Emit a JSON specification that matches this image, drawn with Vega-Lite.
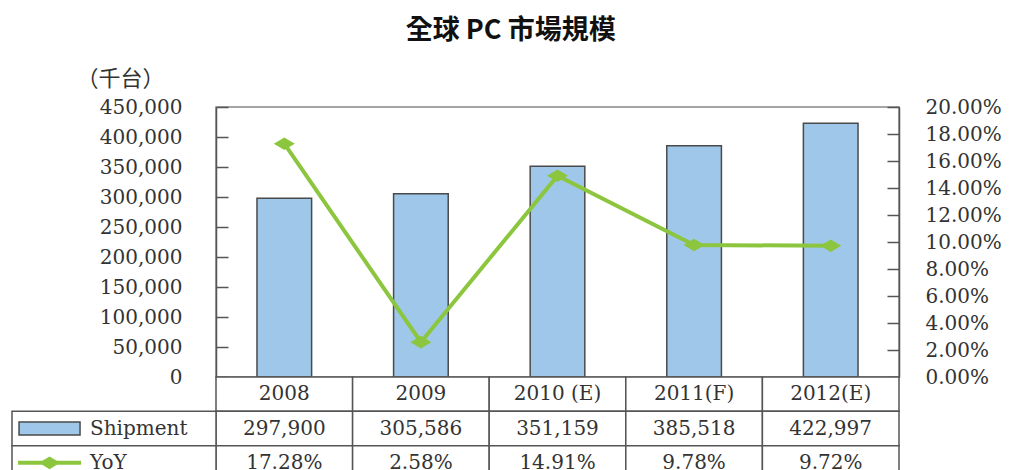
{
  "$schema": "https://vega.github.io/schema/vega-lite/v6.json",
  "width": 683,
  "height": 270,
  "padding": {"left": 10, "top": 17, "right": 0, "bottom": 0},
  "background": "white",
  "title": {
    "text": "全球 PC 市場規模",
    "font": "Noto Sans CJK TC",
    "fontSize": 27,
    "fontWeight": "bold",
    "color": "#111111",
    "anchor": "middle",
    "frame": "bounds",
    "dx": 5,
    "offset": 22
  },
  "config": {
    "view": {"stroke": "#888888", "strokeWidth": 1.5},
    "axis": {"grid": false},
    "text": {"font": "DejaVu Serif", "fontSize": 20, "color": "#333333"}
  },
  "data": {
    "values": [
      {"year": "2008", "shipment": 297900, "yoy": 0.1728},
      {"year": "2009", "shipment": 305586, "yoy": 0.0258},
      {"year": "2010 (E)", "shipment": 351159, "yoy": 0.1491},
      {"year": "2011(F)", "shipment": 385518, "yoy": 0.0978},
      {"year": "2012(E)", "shipment": 422997, "yoy": 0.0972}
    ]
  },
  "resolve": {"scale": {"x": "independent", "y": "independent"}, "axis": {"x": "independent", "y": "independent"}},
  "layer": [
    {
      "mark": {"type": "bar", "fill": "#9FC7EA", "stroke": "#4a4a4a", "strokeWidth": 1.5, "width": {"band": 0.4}},
      "encoding": {
        "x": {"field": "year", "type": "nominal", "scale": {"paddingInner": 0, "paddingOuter": 0}, "axis": null},
        "y": {
          "field": "shipment", "type": "quantitative",
          "scale": {"domain": [0, 450000], "nice": false},
          "axis": {
            "orient": "left", "tickCount": 9, "format": ",d",
            "domainColor": "#555555", "domainWidth": 1.5,
            "tickColor": "#555555", "tickWidth": 1.5, "tickSize": -12,
            "labelFont": "DejaVu Serif", "labelFontSize": 20, "labelColor": "#333333", "labelPadding": 46,
            "title": "（千台）", "titleFont": "Noto Sans CJK TC", "titleFontSize": 22, "titleFontWeight": "normal",
            "titleColor": "#333333", "titleAngle": 0, "titleAlign": "left", "titleBaseline": "middle",
            "titleX": -140, "titleY": -29
          }
        }
      }
    },
    {
      "encoding": {
        "x": {"field": "year", "type": "nominal", "scale": {"paddingInner": 0, "paddingOuter": 0}, "axis": null},
        "y": {
          "field": "yoy", "type": "quantitative",
          "scale": {"domain": [0, 0.2], "nice": false},
          "axis": {
            "orient": "right", "tickCount": 10, "format": ".2%",
            "domainColor": "#555555", "domainWidth": 1.5,
            "tickColor": "#555555", "tickWidth": 1.5, "tickSize": -12,
            "labelFont": "DejaVu Serif", "labelFontSize": 20, "labelColor": "#333333", "labelPadding": 38,
            "title": null
          }
        }
      },
      "layer": [
        {"mark": {"type": "line", "color": "#8CC63E", "strokeWidth": 4}},
        {"mark": {"type": "point", "filled": true, "fill": "#8CC63E", "opacity": 1, "shape": "M-1,0L0,-0.6L1,0L0,0.6Z", "size": 441}}
      ]
    },
    {
      "encoding": {
        "x": {"field": "year", "type": "nominal", "scale": {"paddingInner": 0, "paddingOuter": 0}, "axis": null}
      },
      "layer": [
        {"mark": {"type": "rect", "fill": "white", "stroke": "#555555", "strokeWidth": 1.5},
         "encoding": {"y": {"datum": "header", "type": "nominal", "scale": {"domain": ["header", "Shipment", "YoY"], "range": [270, 373], "paddingInner": 0, "paddingOuter": 0}, "axis": null}}},
        {"mark": {"type": "rect", "fill": "white", "stroke": "#555555", "strokeWidth": 1.5},
         "encoding": {"y": {"datum": "Shipment", "type": "nominal"}}},
        {"mark": {"type": "rect", "fill": "white", "stroke": "#555555", "strokeWidth": 1.5},
         "encoding": {"y": {"datum": "YoY", "type": "nominal"}}},
        {"mark": {"type": "text", "baseline": "middle", "align": "center"},
         "encoding": {"y": {"datum": "header", "type": "nominal"}, "text": {"field": "year"}}},
        {"mark": {"type": "text", "baseline": "middle", "align": "center"},
         "encoding": {"y": {"datum": "Shipment", "type": "nominal"}, "text": {"field": "shipment", "type": "quantitative", "format": ","}}},
        {"mark": {"type": "text", "baseline": "middle", "align": "center"},
         "encoding": {"y": {"datum": "YoY", "type": "nominal"}, "text": {"field": "yoy", "type": "quantitative", "format": ".2%"}}}
      ]
    },
    {
      "data": {"values": [{"row": "Shipment", "col": "legend"}, {"row": "YoY", "col": "legend"}]},
      "encoding": {
        "y": {"field": "row", "type": "nominal", "scale": {"domain": ["header", "Shipment", "YoY"], "range": [270, 373], "paddingInner": 0, "paddingOuter": 0}, "axis": null}
      },
      "layer": [
        {"mark": {"type": "rect", "fill": "white", "stroke": "#555555", "strokeWidth": 1.5},
         "encoding": {"x": {"field": "col", "type": "nominal", "scale": {"domain": ["legend"], "range": [-204, 0], "paddingInner": 0, "paddingOuter": 0}, "axis": null}}},
        {"transform": [{"filter": "datum.row === 'Shipment'"}],
         "mark": {"type": "point", "filled": true, "fill": "#9FC7EA", "stroke": "#4a4a4a", "strokeWidth": 1.5, "opacity": 1, "shape": "M-1,-0.213H1V0.213H-1Z", "size": 3721},
         "encoding": {"x": {"field": "col", "type": "nominal", "bandPosition": 0.184}}},
        {"transform": [{"filter": "datum.row === 'YoY'"}],
         "mark": {"type": "point", "filled": false, "stroke": "#8CC63E", "strokeWidth": 4, "opacity": 1, "shape": "M-1,0H1", "size": 3969},
         "encoding": {"x": {"field": "col", "type": "nominal", "bandPosition": 0.184}}},
        {"transform": [{"filter": "datum.row === 'YoY'"}],
         "mark": {"type": "point", "filled": true, "fill": "#8CC63E", "opacity": 1, "shape": "M-1,0L0,-0.6L1,0L0,0.6Z", "size": 441},
         "encoding": {"x": {"field": "col", "type": "nominal", "bandPosition": 0.184}}},
        {"mark": {"type": "text", "baseline": "middle", "align": "left"},
         "encoding": {"x": {"field": "col", "type": "nominal", "bandPosition": 0.382}, "text": {"field": "row"}}}
      ]
    }
  ]
}
